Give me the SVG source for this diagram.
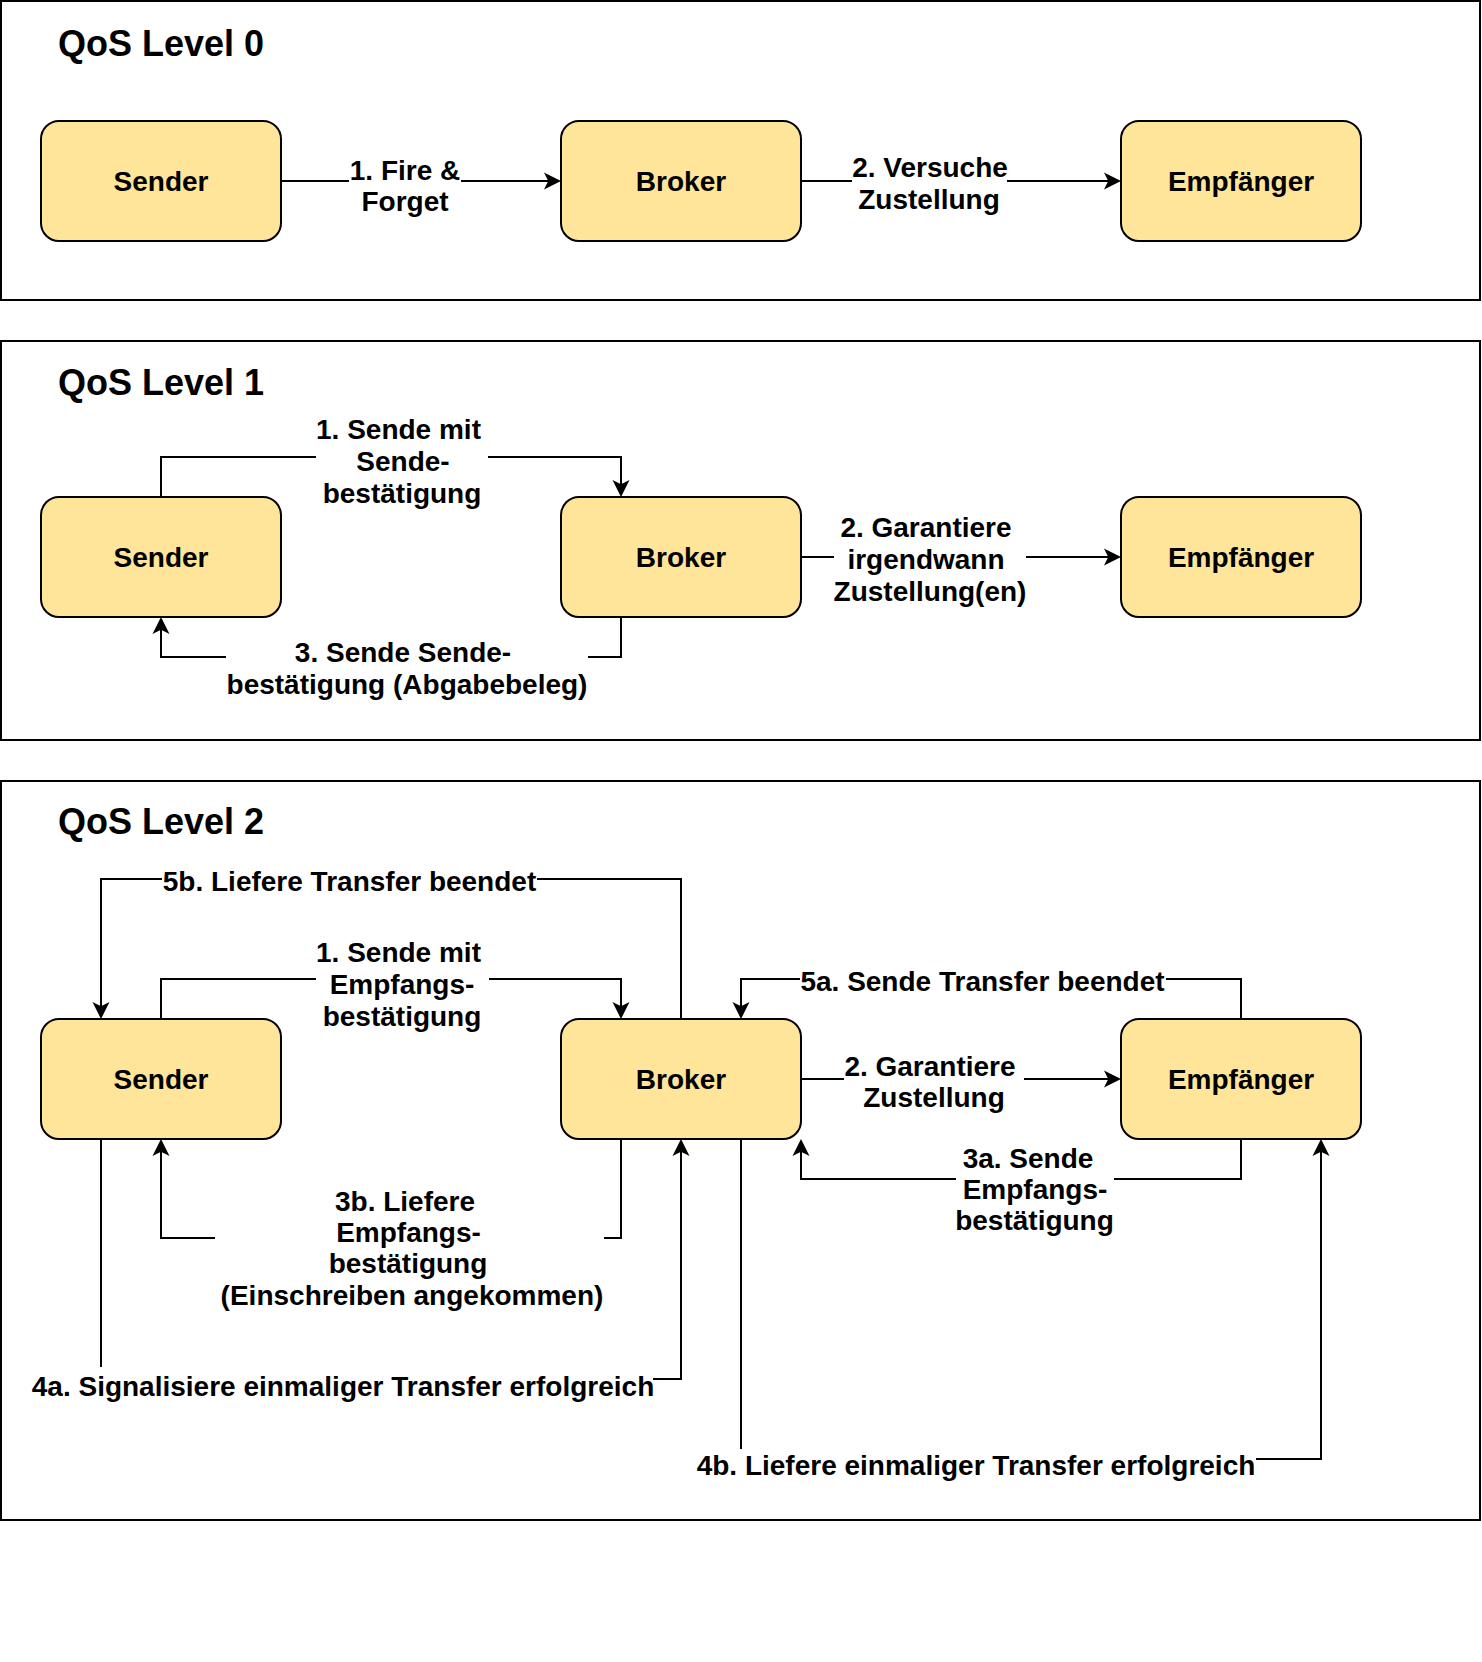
<svg xmlns="http://www.w3.org/2000/svg" width="1482" height="1662" viewBox="0 0 1482 1662">
<style>
.frame{fill:none;stroke:#000;stroke-width:2}
.node rect{fill:#FFE599;stroke:#000;stroke-width:2}
text{font-family:"Liberation Sans",Arial,Helvetica,sans-serif;font-weight:bold;fill:#000}
.node text{font-size:28px;text-anchor:middle}
.title{font-size:36px}
.lbl{font-size:28px;text-anchor:middle}
.edge{fill:none;stroke:#000;stroke-width:2;marker-end:url(#arr)}
.bg{fill:#fff}
</style>
<defs>
<marker id="arr" viewBox="-12 -9 19 18" refX="0" refY="0" markerWidth="19" markerHeight="18" markerUnits="userSpaceOnUse" orient="auto">
<path d="M6,0 L-11,-8.5 L-6.75,0 L-11,8.5 Z" fill="#000"/>
</marker>
</defs>
<rect width="1482" height="1662" fill="#fff"/>

<g id="frames">
<rect class="frame" x="1" y="1" width="1479" height="299"/>
<rect class="frame" x="1" y="341" width="1479" height="399"/>
<rect class="frame" x="1" y="781" width="1479" height="739"/>
<text class="title" x="58" y="56">QoS Level 0</text>
<text class="title" x="58" y="395">QoS Level 1</text>
<text class="title" x="58" y="834">QoS Level 2</text>
</g>

<g id="connectors">
<!-- Level 0 -->
<g id="l0-e1">
<path class="edge" d="M281,181 H555"/>
<rect class="bg" x="349" y="156" width="112" height="62"/>
<text class="lbl"><tspan x="405" y="180">1. Fire &amp;</tspan><tspan x="405" y="211">Forget</tspan></text>
</g>
<g id="l0-e2">
<path class="edge" d="M801,181 H1115"/>
<rect class="bg" x="852" y="154" width="155" height="62"/>
<text class="lbl"><tspan x="930" y="177">2. Versuche</tspan><tspan x="929" y="208.5">Zustellung</tspan></text>
</g>
<!-- Level 1 -->
<g id="l1-e1">
<path class="edge" d="M161,497 V457 H621 V491"/>
<rect class="bg" x="316" y="414" width="172" height="96"/>
<text class="lbl"><tspan x="398.5" y="439">1. Sende mit</tspan><tspan x="403" y="471">Sende-</tspan><tspan x="402" y="503">bestätigung</tspan></text>
</g>
<g id="l1-e2">
<path class="edge" d="M801,557 H1115"/>
<rect class="bg" x="834" y="512" width="192" height="96"/>
<text class="lbl"><tspan x="926" y="537">2. Garantiere</tspan><tspan x="926" y="569">irgendwann</tspan><tspan x="930" y="601">Zustellung(en)</tspan></text>
</g>
<g id="l1-e3">
<path class="edge" d="M621,617 V657 H161 V623"/>
<rect class="bg" x="226" y="637" width="362" height="64"/>
<text class="lbl"><tspan x="403" y="662">3. Sende Sende-</tspan><tspan x="407" y="694">bestätigung (Abgabebeleg)</tspan></text>
</g>
<!-- Level 2 -->
<g id="l2-e5b">
<path class="edge" d="M681,1019 V879 H101 V1013"/>
<rect class="bg" x="162" y="866" width="375" height="33"/>
<text class="lbl" x="349.5" y="891">5b. Liefere Transfer beendet</text>
</g>
<g id="l2-e1">
<path class="edge" d="M161,1019 V979 H621 V1013"/>
<rect class="bg" x="316" y="937" width="173" height="96"/>
<text class="lbl"><tspan x="398.5" y="962">1. Sende mit</tspan><tspan x="402" y="994">Empfangs-</tspan><tspan x="402" y="1026">bestätigung</tspan></text>
</g>
<g id="l2-e5a">
<path class="edge" d="M1241,1019 V979 H741 V1013"/>
<rect class="bg" x="800" y="966" width="366" height="33"/>
<text class="lbl" x="982.5" y="991">5a. Sende Transfer beendet</text>
</g>
<g id="l2-e2">
<path class="edge" d="M801,1079 H1115"/>
<rect class="bg" x="844" y="1052" width="180" height="63"/>
<text class="lbl"><tspan x="930" y="1076">2. Garantiere</tspan><tspan x="934" y="1107">Zustellung</tspan></text>
</g>
<g id="l2-e3a">
<path class="edge" d="M1241,1139 V1179 H801 V1145"/>
<rect class="bg" x="956" y="1143" width="158" height="96"/>
<text class="lbl"><tspan x="1028" y="1168">3a. Sende</tspan><tspan x="1035" y="1199">Empfangs-</tspan><tspan x="1034.5" y="1230">bestätigung</tspan></text>
</g>
<g id="l2-e3b">
<path class="edge" d="M621,1139 V1238 H161 V1145"/>
<rect class="bg" x="215" y="1187" width="389" height="128"/>
<text class="lbl"><tspan x="405" y="1211">3b. Liefere</tspan><tspan x="408.5" y="1242">Empfangs-</tspan><tspan x="408" y="1273">bestätigung</tspan><tspan x="412" y="1305">(Einschreiben angekommen)</tspan></text>
</g>
<g id="l2-e4a">
<path class="edge" d="M101,1139 V1379 H681 V1145"/>
<rect class="bg" x="33" y="1367" width="620" height="36"/>
<text class="lbl" x="343" y="1396">4a. Signalisiere einmaliger Transfer erfolgreich</text>
</g>
<g id="l2-e4b">
<path class="edge" d="M741,1139 V1459 H1321 V1145"/>
<rect class="bg" x="696" y="1449" width="560" height="36"/>
<text class="lbl" x="976" y="1475">4b. Liefere einmaliger Transfer erfolgreich</text>
</g>
</g>

<g id="n-l0-sender" class="node"><rect x="41" y="121" width="240" height="120" rx="18"/><text x="161" y="191">Sender</text></g>
<g id="n-l0-broker" class="node"><rect x="561" y="121" width="240" height="120" rx="18"/><text x="681" y="191">Broker</text></g>
<g id="n-l0-empf" class="node"><rect x="1121" y="121" width="240" height="120" rx="18"/><text x="1241" y="191">Empfänger</text></g>

<g id="n-l1-sender" class="node"><rect x="41" y="497" width="240" height="120" rx="18"/><text x="161" y="567">Sender</text></g>
<g id="n-l1-broker" class="node"><rect x="561" y="497" width="240" height="120" rx="18"/><text x="681" y="567">Broker</text></g>
<g id="n-l1-empf" class="node"><rect x="1121" y="497" width="240" height="120" rx="18"/><text x="1241" y="567">Empfänger</text></g>

<g id="n-l2-sender" class="node"><rect x="41" y="1019" width="240" height="120" rx="18"/><text x="161" y="1089">Sender</text></g>
<g id="n-l2-broker" class="node"><rect x="561" y="1019" width="240" height="120" rx="18"/><text x="681" y="1089">Broker</text></g>
<g id="n-l2-empf" class="node"><rect x="1121" y="1019" width="240" height="120" rx="18"/><text x="1241" y="1089">Empfänger</text></g>
</svg>
